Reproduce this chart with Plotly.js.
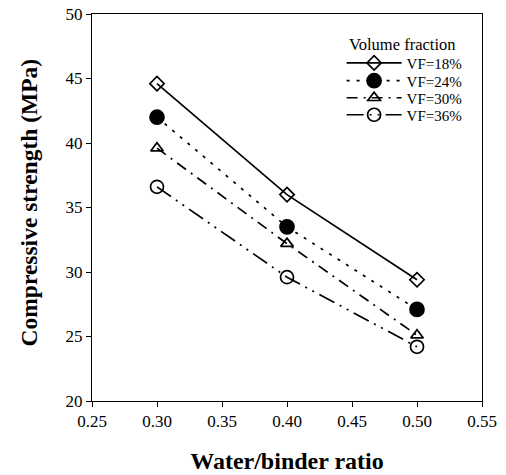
<!DOCTYPE html>
<html><head><meta charset="utf-8">
<script src="https://cdn.plot.ly/plotly-3.0.1.min.js"></script>
<style>body{margin:0;background:#fff}</style>
</head><body><div id="chart" style="width:506px;height:475px"></div>
<script>
const wb = [0.30, 0.40, 0.50];
const names = ["VF=18%", "VF=24%", "VF=30%", "VF=36%"];
const vf18 = [44.6, 36.0, 29.4];
const vf24 = [42.0, 33.5, 27.1];
const vf30 = [39.6, 32.2, 25.1];
const vf36 = [36.6, 29.6, 24.2];
const xTicks = [0.25, 0.30, 0.35, 0.40, 0.45, 0.50, 0.55];
const yTicks = [20, 25, 30, 35, 40, 45, 50];
const legendTitle = "Volume fraction";

const series = [vf18, vf24, vf30, vf36];
const dashes = ["solid", "3px,7px", "11px,6px,2px,6px", "17px,6px,2px,6px,2px,6px"];
const symbols = ["diamond-open", "circle", "triangle-up-open", "circle-open"];
const sizes = [11, 14, 11, 13];
const legendIds = ["legend", "legend2", "legend3", "legend4"];
const traces = series.map((s, i) => ({
  x: wb, y: s, name: names[i], type: "scatter", mode: "lines+markers",
  legend: legendIds[i],
  line: {color: "#000", width: 1.7, dash: dashes[i]},
  marker: {symbol: symbols[i], size: sizes[i], color: "#000", line: {color: "#000", width: 1.7}}
}));
const serif = "Liberation Serif, Times New Roman, serif";
const legendRowY = [0.873, 0.827, 0.783, 0.739];
const layout = {
  width: 506, height: 475,
  margin: {l: 92, r: 24, t: 14, b: 74},
  paper_bgcolor: "#fff", plot_bgcolor: "#fff",
  font: {family: serif, color: "#000", size: 16},
  showlegend: true,
  xaxis: {range: [0.25, 0.55], tickvals: xTicks, ticktext: xTicks.map(v => v.toFixed(2)),
    ticks: "outside", ticklen: 5, tickwidth: 1, tickcolor: "#000",
    showline: true, linecolor: "#000", linewidth: 1, mirror: true, showgrid: false, zeroline: false,
    tickfont: {family: serif, size: 17},
    title: {text: "<b>Water/binder ratio</b>", font: {family: serif, size: 24}, standoff: 21}},
  yaxis: {range: [20, 50], tickvals: yTicks,
    ticks: "outside", ticklen: 5, tickwidth: 1, tickcolor: "#000",
    showline: true, linecolor: "#000", linewidth: 1, mirror: true, showgrid: false, zeroline: false,
    tickfont: {family: serif, size: 17}},
  annotations: [
    {text: "<b>Compressive strength (MPa)</b>", textangle: -90,
     xref: "paper", yref: "paper", x: -0.1615, y: 0.513, xanchor: "center", yanchor: "middle",
     showarrow: false, font: {family: serif, size: 23.5}},
    {text: legendTitle, xref: "paper", yref: "paper", x: 0.794, y: 0.92,
     xanchor: "center", yanchor: "middle", showarrow: false, font: {family: serif, size: 16.5}}
  ]
};
legendIds.forEach((id, i) => {
  layout[id] = {x: 0.64, y: legendRowY[i], xanchor: "left", yanchor: "middle", itemwidth: 55,
    font: {family: serif, size: 15}, bgcolor: "rgba(0,0,0,0)"};
});
Plotly.newPlot("chart", traces, layout, {displayModeBar: false});
</script></body></html>
